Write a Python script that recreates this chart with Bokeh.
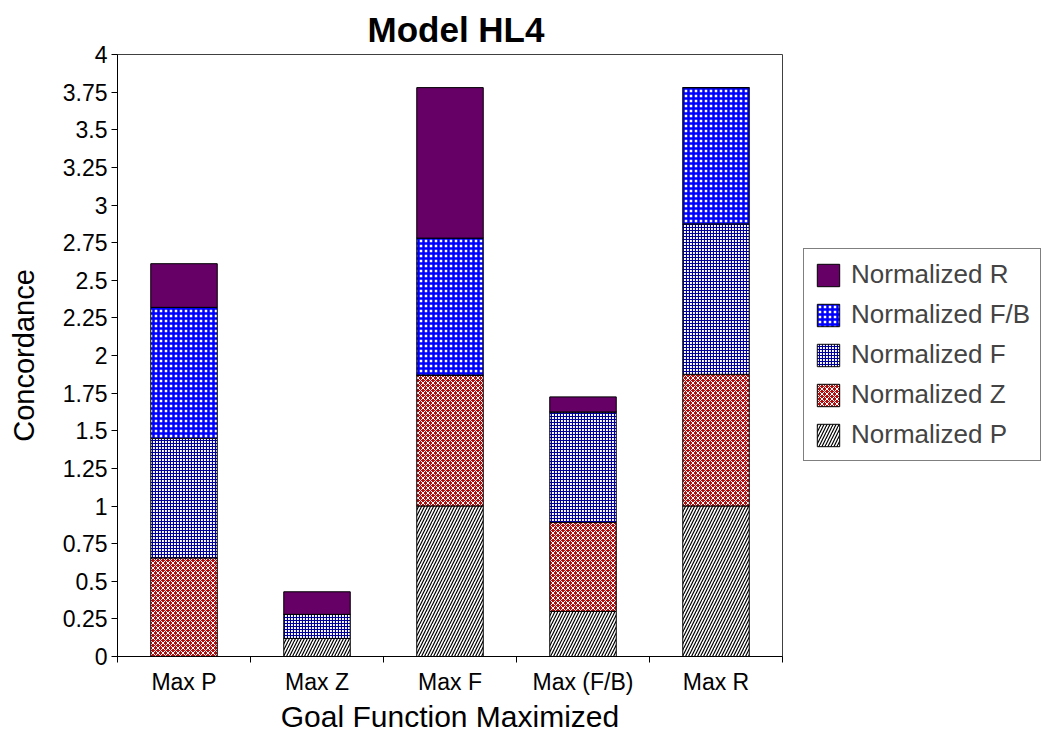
from bokeh.plotting import figure
from bokeh.models import FixedTicker, Legend, LegendItem, Range1d
from bokeh.embed import file_html
from bokeh.resources import INLINE

categories = ["Max P", "Max Z", "Max F", "Max (F/B)", "Max R"]
norm_p = [0.0, 0.12, 1.0, 0.30, 1.0]
norm_z = [0.655, 0.0, 0.87, 0.59, 0.875]
norm_f = [0.795, 0.16, 0.0, 0.735, 1.0]
norm_fb = [0.87, 0.0, 0.91, 0.0, 0.905]
norm_r = [0.29, 0.15, 1.0, 0.10, 0.0]
series_names = ["Normalized P", "Normalized Z", "Normalized F", "Normalized F/B", "Normalized R"]
y_ticks = [0, 0.25, 0.5, 0.75, 1, 1.25, 1.5, 1.75, 2, 2.25, 2.5, 2.75, 3, 3.25, 3.5, 3.75, 4]
y_tick_labels = ["0", "0.25", "0.5", "0.75", "1", "1.25", "1.5", "1.75", "2", "2.25",
                 "2.5", "2.75", "3", "3.25", "3.5", "3.75", "4"]

FONT = "Liberation Sans"
xs = [i + 0.5 for i in range(len(categories))]
data = dict(x=xs, p=norm_p, z=norm_z, f=norm_f, fb=norm_fb, r=norm_r)

p = figure(frame_width=665, frame_height=602, output_backend="svg", toolbar_location=None,
           x_range=Range1d(0, len(categories)), y_range=Range1d(0, 4),
           min_border_left=117, min_border_top=54, min_border_bottom=75, min_border_right=262,
           title="Model HL4")

renderers = p.vbar_stack(["p", "z", "f", "fb", "r"], x="x", width=0.5, source=data,
                         fill_color=["white", "#b01010", "white", "white", "#660066"],
                         hatch_pattern=["/", "x", "+", "+", " "],
                         hatch_color=["black", "white", "#000099", "#0000ff", "#660066"],
                         hatch_scale=[6, 5, 3, 5, 1],
                         hatch_weight=[1.2, 1, 1.2, 2.5, 1],
                         line_color="black", line_width=1)

items = [LegendItem(label=series_names[i], renderers=[renderers[i]]) for i in range(4, -1, -1)]
legend = Legend(items=items, location=(21, 195), margin=0, padding=10, spacing=9,
                glyph_width=28, glyph_height=28, label_standoff=9,
                label_text_font=FONT, label_text_font_size="26px",
                border_line_color="black", border_line_width=1)
p.add_layout(legend, "right")

p.title.text_font = FONT
p.title.text_font_size = "35px"
p.title.text_font_style = "bold"
p.title.text_color = "black"
p.title.align = "left"
p.title.offset = 250
p.title.standoff = 10
p.title.vertical_align = "middle"

p.grid.visible = False
p.outline_line_color = "#404040"
p.outline_line_width = 1

p.xaxis.ticker = FixedTicker(ticks=xs, minor_ticks=list(range(len(categories) + 1)))
p.xaxis.major_label_overrides = {x: c for x, c in zip(xs, categories)}
p.xaxis.major_tick_out = 0
p.xaxis.major_tick_in = 0
p.xaxis.minor_tick_out = 6
p.xaxis.minor_tick_in = 0
p.xaxis.major_label_standoff = 6
p.xaxis.axis_label = "Goal Function Maximized"
p.xaxis.axis_label_standoff = 2

p.yaxis.ticker = FixedTicker(ticks=y_ticks, minor_ticks=[])
p.yaxis.major_label_overrides = {t: l for t, l in zip(y_ticks, y_tick_labels)}
p.yaxis.major_tick_out = 6
p.yaxis.major_tick_in = 0
p.yaxis.major_label_standoff = 4
p.yaxis.axis_label = "Concordance"
p.yaxis.axis_label_standoff = 20

for ax in (p.xaxis[0], p.yaxis[0]):
    ax.axis_line_color = "black"
    ax.major_tick_line_color = "black"
    ax.minor_tick_line_color = "black"
    ax.major_label_text_font = FONT
    ax.major_label_text_font_size = "23px"
    ax.major_label_text_color = "black"
    ax.axis_label_text_font = FONT
    ax.axis_label_text_font_size = "29px"
    ax.axis_label_text_font_style = "normal"
    ax.axis_label_text_color = "black"
p.xaxis.axis_label_text_font_size = "30px"

open("out.html", "w").write(file_html(p, INLINE))
